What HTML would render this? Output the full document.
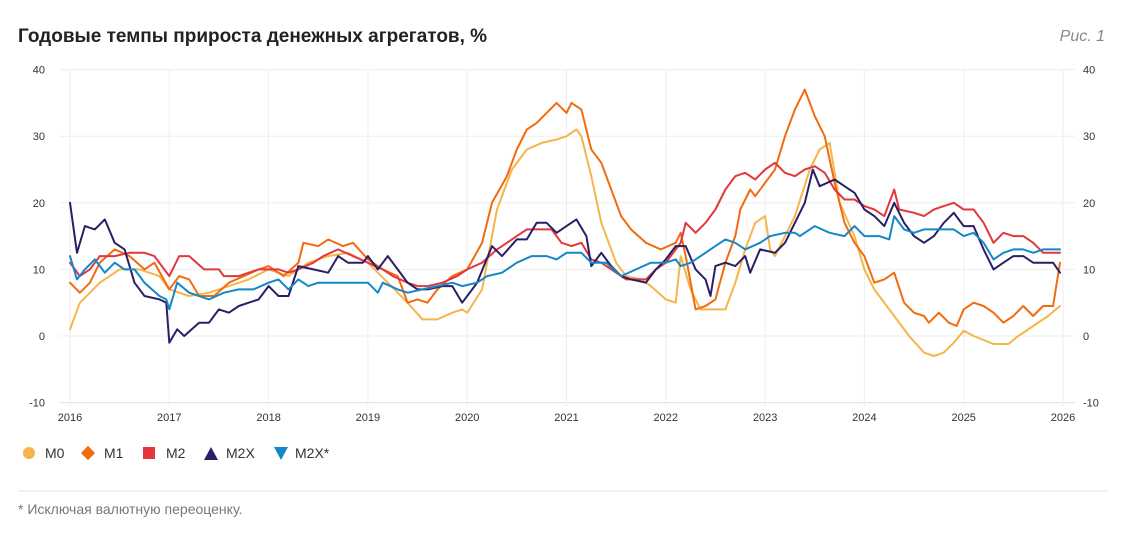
<!DOCTYPE html>
<html><head><meta charset="utf-8"><style>
body{margin:0;background:#fff;width:1133px;height:540px;overflow:hidden;font-family:"Liberation Sans",sans-serif}
</style></head><body>
<svg id="s" width="1133" height="540" xmlns="http://www.w3.org/2000/svg" font-family="Liberation Sans, sans-serif">
<text x="18" y="42" font-size="19" font-weight="bold" fill="#222">Годовые темпы прироста денежных агрегатов, %</text>
<text x="1105" y="41" font-size="16" font-style="italic" fill="#888" text-anchor="end">Рис. 1</text>
<g id="grid"></g>
<g id="lines" fill="none" stroke-width="2" stroke-linejoin="round" stroke-linecap="round"></g>
<g font-size="14" fill="#333">
<circle cx="29" cy="453" r="6" fill="#f5b54a"/><text x="45" y="458">M0</text>
<rect x="83" y="448" width="10" height="10" fill="#f26b0f" transform="rotate(45 88 453)"/><text x="104" y="458">M1</text>
<rect x="143" y="447" width="12" height="12" fill="#e0383e"/><text x="166" y="458">M2</text>
<polygon points="204,460 211,447 218,460" fill="#2a1f66"/><text x="226" y="458">M2X</text>
<polygon points="274,447 288,447 281,460" fill="#1487c8"/><text x="295" y="458">M2X*</text>
</g>
<line x1="18" y1="491" x2="1108" y2="491" stroke="#e6e6e6"/>
<text x="18" y="514" font-size="14" fill="#777">* Исключая валютную переоценку.</text>
</svg>
<script>
const X=t=>70+(t-2016)*99.3, Y=v=>336-v*6.66;
let g='';
for(let v=-10;v<=40;v+=10){g+=`<line x1="60" x2="1075" y1="${Y(v)}" y2="${Y(v)}" stroke="${v==-10?'#dde':'#eee'}"/>`;
g+=`<text x="45" y="${Y(v)+4}" font-size="11" fill="#333" text-anchor="end">${v}</text><text x="1083" y="${Y(v)+4}" font-size="11" fill="#333">${v}</text>`;}
for(let y=2016;y<=2026;y++){g+=`<line x1="${X(y)}" x2="${X(y)}" y1="70" y2="406" stroke="#eee"/><text x="${X(y)}" y="421" font-size="11" fill="#333" text-anchor="middle">${y}</text>`;}
document.getElementById('grid').innerHTML=g;
const S={
"#f5b54a":[2016.0,1,2016.1,5,2016.3,8,2016.5,10,2016.7,10,2016.9,9,2017.0,7,2017.2,6,2017.4,6.5,2017.6,7.5,2017.8,8.5,2018.0,10,2018.2,9,2018.4,11,2018.6,12,2018.8,12.5,2019.0,11,2019.2,8,2019.4,5,2019.55,2.5,2019.7,2.5,2019.85,3.5,2019.95,4,2020.0,3.5,2020.15,7,2020.3,19,2020.45,25,2020.6,28,2020.75,29,2020.9,29.5,2021.0,30,2021.1,31,2021.15,30,2021.25,24,2021.35,17,2021.5,11,2021.6,9,2021.75,8.5,2021.85,7.5,2022.0,5.5,2022.1,5,2022.15,12,2022.25,7,2022.35,4,2022.5,4,2022.6,4,2022.7,8,2022.8,13,2022.9,17,2023.0,18,2023.05,13,2023.1,12,2023.3,18,2023.45,25,2023.55,28,2023.65,29,2023.75,20,2023.9,15,2024.0,10,2024.1,7,2024.3,3,2024.45,0,2024.6,-2.5,2024.7,-3,2024.8,-2.5,2024.9,-1,2025.0,0.8,2025.1,0,2025.3,-1.2,2025.45,-1.2,2025.55,0,2025.7,1.5,2025.85,3,2025.97,4.5],
"#f26b0f":[2016.0,8,2016.1,6.5,2016.2,8,2016.3,11,2016.45,13,2016.6,12,2016.75,10,2016.85,11,2017.0,7,2017.1,9,2017.2,8.5,2017.3,6,2017.45,6,2017.6,8,2017.75,9,2017.9,10,2018.0,10.5,2018.15,9,2018.3,11,2018.35,14,2018.5,13.5,2018.6,14.5,2018.75,13.5,2018.85,14,2019.0,11.5,2019.15,10,2019.3,9,2019.4,5,2019.5,5.5,2019.6,5,2019.7,7,2019.85,9,2020.0,10,2020.15,14,2020.25,20,2020.4,24,2020.5,28,2020.6,31,2020.7,32,2020.8,33.5,2020.9,35,2021.0,33.5,2021.05,35,2021.15,34,2021.25,28,2021.35,26,2021.45,22,2021.55,18,2021.65,16,2021.8,14,2021.95,13,2022.1,14,2022.15,15.5,2022.2,12,2022.3,4,2022.4,4.5,2022.5,5.5,2022.6,11,2022.7,15,2022.75,19,2022.85,22,2022.9,21,2023.0,23,2023.1,25,2023.2,30,2023.3,34,2023.4,37,2023.5,33,2023.6,30,2023.7,23,2023.8,17,2023.9,14,2024.0,12,2024.1,8,2024.2,8.5,2024.3,9.5,2024.4,5,2024.5,3.5,2024.6,3,2024.65,2,2024.75,3.5,2024.85,2,2024.93,1.5,2025.0,4,2025.1,5,2025.2,4.5,2025.3,3.5,2025.4,2,2025.5,3,2025.6,4.5,2025.7,3,2025.8,4.5,2025.9,4.5,2025.97,11],
"#e0383e":[2016.0,11,2016.1,9,2016.2,10,2016.3,12,2016.45,12,2016.6,12.5,2016.75,12.5,2016.85,12,2016.95,10,2017.0,9,2017.1,12,2017.2,12,2017.35,10,2017.5,10,2017.55,9,2017.7,9,2017.8,9.5,2017.9,10,2018.0,10,2018.1,10,2018.2,9.5,2018.3,10,2018.45,11,2018.55,12,2018.7,13,2018.85,12,2019.0,11,2019.15,10,2019.25,9,2019.4,8,2019.5,7.5,2019.6,7.5,2019.75,8,2019.9,9,2020.0,10,2020.15,11,2020.3,13,2020.4,14,2020.5,15,2020.6,16,2020.7,16,2020.85,16,2020.95,14,2021.05,13.5,2021.15,14,2021.25,11.5,2021.35,11,2021.5,9.5,2021.6,8.5,2021.8,8.5,2021.9,10,2022.0,11,2022.15,14,2022.2,17,2022.3,15.5,2022.4,17,2022.5,19,2022.6,22,2022.7,24,2022.8,24.5,2022.9,23.5,2023.0,25,2023.1,26,2023.2,24.5,2023.3,24,2023.4,25,2023.5,25.5,2023.6,24.5,2023.7,22,2023.8,20.5,2023.9,20.5,2024.0,19.5,2024.1,19,2024.2,18,2024.3,22,2024.35,19,2024.5,18.5,2024.6,18,2024.7,19,2024.8,19.5,2024.9,20,2025.0,19,2025.1,19,2025.2,17,2025.3,14,2025.4,15.5,2025.5,15,2025.6,15,2025.7,14,2025.8,12.5,2025.97,12.5],
"#2a1f66":[2016.0,20,2016.07,12.5,2016.15,16.5,2016.25,16,2016.35,17.5,2016.45,14,2016.55,13,2016.65,8,2016.75,6,2016.9,5.5,2016.97,5,2017.0,-1,2017.08,1,2017.15,0,2017.3,2,2017.4,2,2017.5,4,2017.6,3.5,2017.7,4.5,2017.8,5,2017.9,5.5,2018.0,7.5,2018.1,6,2018.2,6,2018.3,10.5,2018.45,10,2018.6,9.5,2018.7,12,2018.8,11,2018.95,11,2019.0,12,2019.1,10,2019.2,12,2019.3,10,2019.4,8,2019.5,7,2019.6,7,2019.75,7.5,2019.85,7.5,2019.95,5,2020.05,7,2020.1,8,2020.25,13.5,2020.35,12,2020.5,14.5,2020.6,14.5,2020.7,17,2020.8,17,2020.9,15.5,2021.0,16.5,2021.1,17.5,2021.2,15,2021.25,10.5,2021.35,12.5,2021.45,10.5,2021.55,9,2021.65,8.5,2021.8,8,2021.9,10,2022.0,11.5,2022.1,13.5,2022.2,13.5,2022.3,10,2022.4,8.5,2022.45,6,2022.5,10.5,2022.6,11,2022.7,10.5,2022.8,12,2022.85,9.5,2022.95,13,2023.1,12.5,2023.2,14,2023.3,17,2023.4,20,2023.48,25,2023.55,22.5,2023.7,23.5,2023.8,22.5,2023.9,21.5,2024.0,19,2024.1,18,2024.2,16.5,2024.3,20,2024.4,17,2024.5,15,2024.6,14,2024.7,15,2024.8,17,2024.9,18.5,2025.0,16.5,2025.1,16.5,2025.2,13,2025.3,10,2025.4,11,2025.5,12,2025.6,12,2025.7,11,2025.8,11,2025.9,11,2025.97,9.5],
"#1487c8":[2016.0,12,2016.07,8.5,2016.15,10,2016.25,11.5,2016.35,9.5,2016.45,11,2016.55,10,2016.65,10,2016.75,8,2016.9,6,2016.97,5.5,2017.0,4,2017.08,8,2017.2,6.5,2017.3,6,2017.4,5.5,2017.55,6.5,2017.7,7,2017.85,7,2018.0,8,2018.1,8.5,2018.2,7,2018.3,8.5,2018.4,7.5,2018.5,8,2018.65,8,2018.8,8,2018.9,8,2019.0,8,2019.1,6.5,2019.15,8,2019.3,7,2019.4,6.5,2019.55,7,2019.7,7.5,2019.85,8,2019.95,7.5,2020.1,8,2020.2,9,2020.35,9.5,2020.5,11,2020.65,12,2020.8,12,2020.9,11.5,2021.0,12.5,2021.15,12.5,2021.25,11,2021.4,11,2021.55,9,2021.7,10,2021.85,11,2022.0,11,2022.1,11.5,2022.15,10.5,2022.25,11,2022.35,12,2022.5,13.5,2022.6,14.5,2022.7,14,2022.8,13,2022.95,14,2023.05,15,2023.2,15.5,2023.3,15.5,2023.35,15,2023.5,16.5,2023.65,15.5,2023.8,15,2023.9,16.5,2024.0,15,2024.15,15,2024.25,14.5,2024.3,18,2024.4,16,2024.5,15.5,2024.6,16,2024.7,16,2024.8,16,2024.9,16,2025.0,15,2025.1,15.5,2025.2,14,2025.3,11.5,2025.4,12.5,2025.5,13,2025.6,13,2025.7,12.5,2025.8,13,2025.9,13,2025.97,13]};
let l='';
for(const c in S){const a=S[c];let p=[];for(let i=0;i<a.length;i+=2)p.push(X(a[i]).toFixed(1)+','+Y(a[i+1]).toFixed(1));
l+=`<polyline stroke="${c}" points="${p.join(' ')}"/>`;}
document.getElementById('lines').innerHTML=l;
</script>
</body></html>
